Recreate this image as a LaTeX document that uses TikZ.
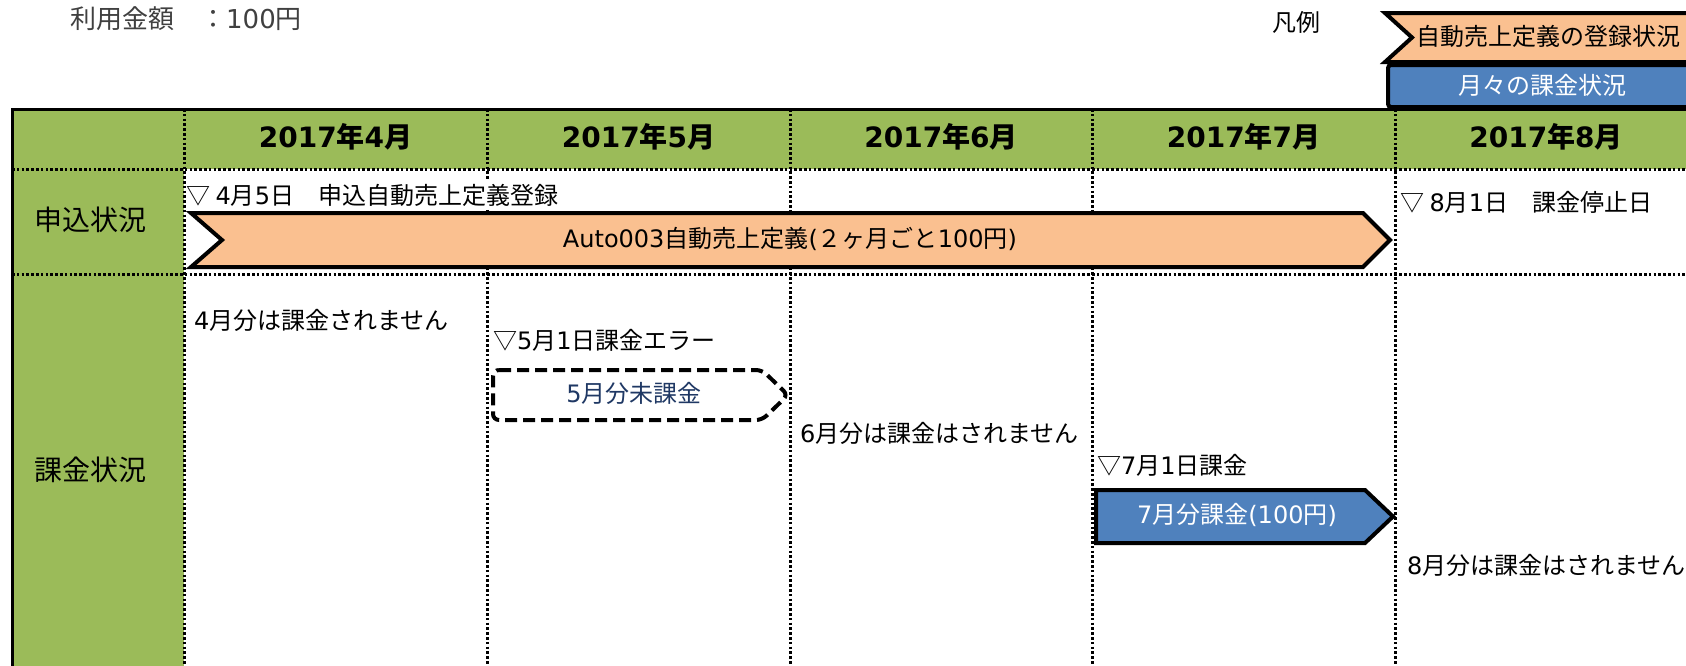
\documentclass[tikz,border=0pt]{standalone}
\usepackage{fontspec}
\setmainfont{Noto Sans CJK JP}
\newfontfamily\latfont{DejaVu Sans}
\newcommand{\ltn}[1]{{\latfont #1}}
\definecolor{hdrgreen}{HTML}{9BBB59}
\definecolor{chevorange}{HTML}{FAC090}
\definecolor{chevblue}{HTML}{4F81BD}
\definecolor{navytext}{HTML}{1F3864}
\definecolor{graytext}{HTML}{404040}
\tikzset{
  gridline/.style={line width=3pt, dash pattern=on 2.6pt off 2.2pt},
  txt/.style={inner sep=0pt, anchor=west, font=\fontsize{24}{28}\selectfont},
  ctxt/.style={inner sep=0pt, font=\fontsize{24}{28}\selectfont},
  hdr/.style={inner sep=0pt, font=\fontsize{28}{32}\selectfont\bfseries},
  rowlabel/.style={inner sep=0pt, font=\fontsize{28}{32}\selectfont},
  shapeline/.style={line width=4pt, line join=miter},
}
\begin{document}
\begin{tikzpicture}[x=1pt,y=-1pt]
\useasboundingbox (0,0) rectangle (1686,665);
\clip (0,0) rectangle (1686,665);
\fill[white] (0,0) rectangle (1686,665);
% table fills
\fill[hdrgreen] (12,109) rectangle (1700,169);
\fill[hdrgreen] (12,169) rectangle (184,680);
% grid
\foreach \x in {184,487,790,1092,1395} \draw[gridline] (\x,109) -- (\x,680);
\foreach \y in {169,274} \draw[gridline] (12,\y) -- (1700,\y);
\draw[line width=3pt] (12,680) -- (12,109) -- (1700,109);
% legend
\node[txt] (legend) at (1272,22) {凡例};
\draw[shapeline, fill=chevorange] (1385,13) -- (1700,13) -- (1700,62) -- (1385,62) -- (1412,37.5) -- cycle;
\node[ctxt] (legendA) at (1548,36) {自動売上定義の登録状況};
\draw[line width=4pt, fill=chevblue, rounded corners=3pt] (1388,65) rectangle (1700,107);
\node[ctxt, text=white] (legendB) at (1542,85) {月々の課金状況};
% amount
\node[txt, text=graytext, font=\fontsize{26}{30}\selectfont] (amount) at (70,19) {利用金額　：\ltn{100}円};
% headers
\node[hdr] (h4) at (335.5,137) {\ltn{2017}年\ltn{4}月};
\node[hdr] (h5) at (638.5,137) {\ltn{2017}年\ltn{5}月};
\node[hdr] (h6) at (941,137) {\ltn{2017}年\ltn{6}月};
\node[hdr] (h7) at (1243.5,137) {\ltn{2017}年\ltn{7}月};
\node[hdr] (h8) at (1546,137) {\ltn{2017}年\ltn{8}月};
% row labels
\node[rowlabel] (r1) at (90,220) {申込状況};
\node[rowlabel] (r2) at (90,470) {課金状況};
% row 1
\node[txt, fill=white, inner ysep=3pt] (apply) at (186,195) {▽ \ltn{4}月\ltn{5}日　申込自動売上定義登録};
\draw[shapeline, fill=chevorange] (191,213) -- (1363,213) -- (1390,240) -- (1363,267) -- (191,267) -- (222,240) -- cycle;
\node[ctxt] (auto) at (790,239) {\ltn{Auto003}自動売上定義\ltn{(}２ヶ月ごと\ltn{100}円\ltn{)}};
\node[txt, fill=white, inner ysep=3pt] (stop) at (1400,202) {▽ \ltn{8}月\ltn{1}日　課金停止日};
% row 2
\node[txt] (apr) at (194,320) {\ltn{4}月分は課金されません};
\node[txt] (mayerr) at (493,340) {▽\ltn{5}月\ltn{1}日課金エラー};
\draw[line width=4pt, dash pattern=on 12pt off 6pt, rounded corners=6pt] (493,370) -- (762,370) -- (788,395) -- (762,420) -- (493,420) -- cycle;
\node[ctxt, text=navytext] (maybox) at (634,393) {\ltn{5}月分未課金};
\node[txt] (jun) at (800,433) {\ltn{6}月分は課金はされません};
\node[txt] (jul) at (1097,465) {▽\ltn{7}月\ltn{1}日課金};
\draw[shapeline, fill=chevblue] (1096,490) -- (1365,490) -- (1393,516.5) -- (1365,543) -- (1096,543) -- cycle;
\node[ctxt, text=white] (julbox) at (1237,515) {\ltn{7}月分課金\ltn{(100}円\ltn{)}};
\node[txt] (aug) at (1407,565) {\ltn{8}月分は課金はされません};
\end{tikzpicture}
\end{document}
